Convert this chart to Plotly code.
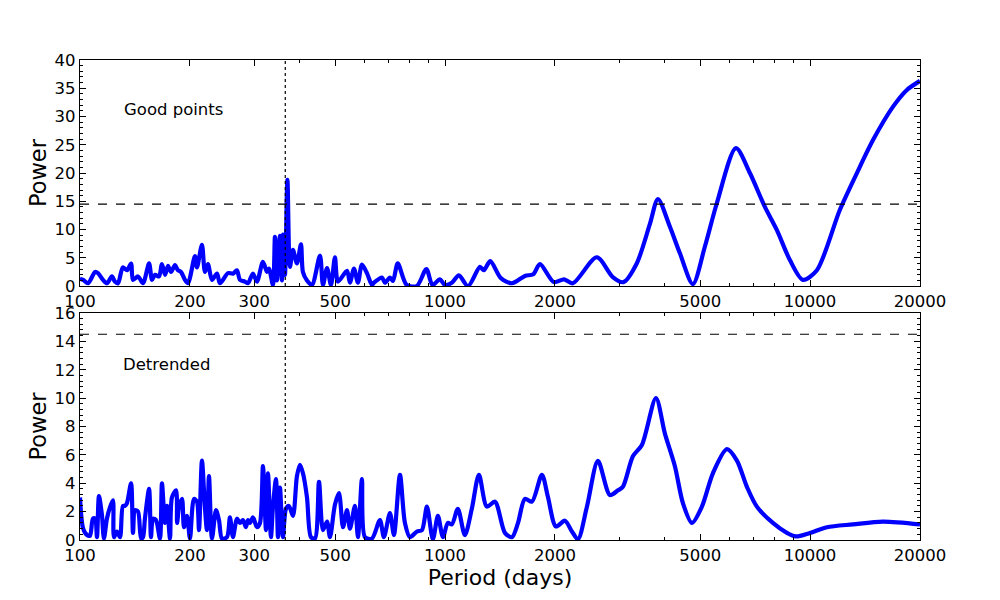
import plotly.graph_objects as go
from plotly.subplots import make_subplots

# ---- data ----
period_good = [100, 102, 105.2, 110, 112, 115.6, 118.5, 122.3, 124.6, 127.1, 131, 134.5, 138, 139.7,
               144.2, 148.8, 154.6, 157.5, 160.5, 164.6, 167.7, 171, 174.2, 177.5, 182, 185.5, 189.1,
               193.9, 197.6, 206.5, 209.1, 215.8, 219.9, 224.1, 229.9, 237.3, 241.8, 254.3, 262.4, 269,
               274.3, 283, 288.5, 297.7, 305.3, 317.1, 325.2, 329.3, 337.7, 342, 346.3, 353, 357.5,
               359.7, 364.3, 370, 376, 383.2, 392.9, 403, 408, 418.6, 432, 454.3, 463, 474.9, 487,
               499.3, 509, 538.7, 548.9, 563, 577.3, 592, 611, 630.6, 638.6, 671.6, 684.4, 706.4,
               719.9, 742, 785, 837, 889, 923.6, 968, 999, 1044, 1091, 1156, 1246, 1277, 1330, 1422,
               1525, 1655, 1745, 1819, 1986, 2120, 2240, 2605, 2880, 3080, 3350, 3641, 3830, 4130,
               4399, 4774, 5150, 5555, 6263, 6840, 7519, 8110, 8803, 9554, 10437, 12067, 13433,
               14858, 16855, 18413, 20000]
power_good = [1.3, 1.1, 0.5, 2.5, 2.3, 1.1, 0.5, 1.7, 0.8, 0.5, 3.3, 2.8, 4.0, 1.1,
              1.7, 0.5, 4.0, 1.1, 2.0, 1.7, 3.9, 2.0, 3.6, 2.5, 3.7, 2.8, 2.5,
              1.1, 0.5, 5.3, 3.3, 7.3, 2.5, 3.9, 1.1, 2.2, 0.5, 2.3, 2.2, 2.8,
              1.1, 0.8, 0.5, 2.2, 0.8, 4.3, 2.5, 3.1, 0.2, 8.7, 1.0, 8.9, 1.0,
              9.1, 2.0, 18.8, 3.4, 6.4, 4.0, 7.4, 2.5, 1.0, 0.2, 5.4, 0.2, 3.2, 0.2,
              5.1, 0.8, 2.7, 0.6, 3.1, 0.6, 3.8, 2.3, 0.2, 0.6, 1.5, 0.6, 1.5,
              0.9, 4.0, 0.2, 0.0, 3.0, 0.2, 1.2, 0.2, 0.6, 1.9, 0.0, 3.4, 2.8, 4.4, 1.4,
              0.5, 1.8, 2.1, 3.9, 0.7, 1.2, 0.5, 5.1, 1.6, 0.7, 4.0, 11.0, 15.4, 10.5,
              5.8, 0.35, 7.0, 14.7, 24.4, 20.0, 14.0, 9.9, 4.6, 1.1, 2.8, 13.5, 20.0,
              25.8, 31.7, 34.7, 36.3]

period_detr = [100, 102, 104.5, 106.5, 108.5, 110, 111.3, 112.7, 114.8, 116.3, 118.5, 120.8, 123.1,
               123.9, 126.2, 128.7, 131.1, 132.8, 134.5, 138, 139.7, 141.5, 144.2, 147, 148.8, 150.6,
               154.6, 156.5, 158.5, 161.5, 165.6, 167.7, 170.9, 173.1, 176.4, 178.6, 183.3, 184.5,
               186.7, 190.3, 192.7, 196.4, 200.1, 205.2, 209.1, 211.8, 215.8, 219.9, 222.7, 225.6,
               229.9, 235.8, 240.3, 244.9, 252.7, 257.5, 262.4, 269.2, 274.3, 279.5, 284.8, 288.5,
               292.1, 297.7, 305.3, 311.2, 317.1, 323.2, 327.3, 333.5, 337.7, 344.2, 348.6, 353,
               359.7, 366.6, 373.6, 383.2, 392.9, 400.5, 408.1, 418.6, 429.2, 440.2, 451.5, 463,
               474.9, 483.9, 499.4, 512.2, 525.3, 538.7, 548.9, 566.4, 577.3, 592, 603.3, 630.6,
               663.2, 680, 706.4, 724.4, 752.4, 776.4, 801.4, 837.6, 864.4, 892, 926, 956, 986.7,
               1018, 1044, 1084, 1133, 1185, 1238, 1302, 1370, 1459, 1525, 1584, 1655, 1730, 1842,
               1913, 2013, 2130, 2226, 2312, 2447, 2623, 2829, 2976, 3070, 3270, 3461, 3782, 4002,
               4262, 4483, 4745, 5053, 5416, 5916, 6302, 6712, 7149, 7908, 8638, 9143, 9987,
               11117, 13097, 15825, 20000]
power_detr = [3.0, 0.8, 0.35, 0.3, 1.5, 1.5, 0.2, 3.1, 1.8, 0.1, 1.5, 2.3, 2.8,
              0.2, 0.6, 0.2, 2.4, 2.4, 2.6, 4.0, 0.5, 2.1, 2.0, 0.1, 0.2, 1.5,
              3.6, 0.2, 1.5, 1.4, 0.1, 4.0, 1.2, 2.4, 0.1, 3.0, 3.5, 1.2,
              2.3, 2.9, 0.9, 1.7, 0.1, 2.9, 2.7, 0.7, 5.6, 2.3, 0.7, 4.5,
              0.1, 2.1, 1.4, 0.1, 0.2, 1.6, 0.2, 1.5, 1.2, 1.4, 0.9, 1.4,
              1.2, 1.6, 0.9, 1.2, 5.2, 0.7, 4.7, 0.2, 2.3, 4.3, 0.2, 3.7,
              0.2, 2.2, 2.4, 1.7, 4.5, 5.3, 4.7, 3.0, 0.2, 0.1, 4.1, 0.7,
              1.3, 0.2, 2.5, 3.3, 0.9, 2.1, 0.8, 2.4, 0.2, 4.3, 0.2, 0.1,
              1.4, 0.2, 1.9, 0.35, 4.6, 1.2, 0.2, 0.6, 0.7, 2.35, 0.05, 1.7, 0.2,
              1.2, 1.1, 2.2, 0.35, 2.25, 4.6, 2.35, 2.7, 0.5, 0.2, 1.2, 2.9, 2.7, 4.6,
              3.05, 0.95, 1.36, 0.6, 0.05, 2.35, 5.57, 3.17, 3.5, 3.75, 5.9, 6.7, 10.0, 7.5,
              5.2, 2.6, 1.2, 2.35, 4.7, 6.4, 5.6, 3.75, 2.35, 1.2, 0.5, 0.25, 0.5,
              0.9, 1.1, 1.3, 1.1]

threshold = 14.5
year_period = 365
x_range = [100, 20000]
x_tickvals = [100, 200, 300, 500, 1000, 2000, 5000, 10000, 20000]
x_ticktext = ["100", "200", "300", "500", "1000", "2000", "5000", "10000", "20000"]
x_minorvals = [400, 600, 700, 800, 900, 3000, 4000, 6000, 7000, 8000, 9000]
top_ylim = [0, 40]
bot_ylim = [0, 16]

FONT = "DejaVu Sans"
BLUE = "#0000ff"

fig = make_subplots(rows=2, cols=1, vertical_spacing=0.0)

for row, (px, pw, ylim) in enumerate([(period_good, power_good, top_ylim),
                                       (period_detr, power_detr, bot_ylim)], start=1):
    fig.add_trace(go.Scatter(x=px, y=pw, mode="lines",
                             line=dict(color=BLUE, width=4.2, shape="spline", smoothing=0.8),
                             showlegend=False, hoverinfo="skip"), row=row, col=1)
    fig.add_trace(go.Scatter(x=x_range, y=[threshold, threshold], mode="lines",
                             line=dict(color="black", width=1.2, dash="dash"),
                             showlegend=False, hoverinfo="skip"), row=row, col=1)
    fig.add_trace(go.Scatter(x=[year_period, year_period], y=ylim, mode="lines",
                             line=dict(color="black", width=1.2, dash="dot"),
                             showlegend=False, hoverinfo="skip"), row=row, col=1)

xcommon = dict(type="log", range=[2, 4.30103], tickvals=x_tickvals, ticktext=x_ticktext,
               ticks="inside", ticklen=6, tickcolor="black", tickwidth=1,
               showline=True, linecolor="black", linewidth=1.2, mirror="ticks",
               showgrid=False, zeroline=False,
               tickfont=dict(family=FONT, size=16.5, color="black"),
               minor=dict(tickvals=x_minorvals, ticks="inside", ticklen=3,
                          tickcolor="black", showgrid=False))
fig.update_xaxes(**xcommon)
fig.update_xaxes(title=dict(text="Period (days)", font=dict(family=FONT, size=22, color="black"),
                            standoff=4), row=2, col=1)

ycommon = dict(ticks="inside", ticklen=6, tickcolor="black", tickwidth=1,
               showline=True, linecolor="black", linewidth=1.2, mirror="ticks",
               showgrid=False, zeroline=False,
               tickfont=dict(family=FONT, size=16.5, color="black"),
               title=dict(text="Power", font=dict(family=FONT, size=22.5, color="black"), standoff=1))
fig.update_yaxes(**ycommon)
fig.update_yaxes(range=top_ylim, dtick=5,
                 minor=dict(dtick=1, ticks="inside", ticklen=3, tickcolor="black", showgrid=False),
                 row=1, col=1)
fig.update_yaxes(range=bot_ylim, dtick=2,
                 minor=dict(dtick=0.4, ticks="inside", ticklen=3, tickcolor="black", showgrid=False),
                 row=2, col=1)

# page body has an 8px default margin, so the figure is made 8px smaller
fig.update_layout(
    width=992, height=592,
    margin=dict(l=72, r=80, t=52, b=60),
    paper_bgcolor="white", plot_bgcolor="white",
    yaxis=dict(domain=[0.529, 1.0]),
    yaxis2=dict(domain=[0.0, 0.473]),
    annotations=[
        dict(text="Good points", xref="x domain", yref="y domain", x=0.05, y=0.779,
             xanchor="left", yanchor="middle", showarrow=False,
             font=dict(family=FONT, size=16.5, color="black")),
        dict(text="Detrended", xref="x2 domain", yref="y2 domain", x=0.049, y=0.775,
             xanchor="left", yanchor="middle", showarrow=False,
             font=dict(family=FONT, size=16.5, color="black")),
    ],
)

fig.write_html("out.html")
